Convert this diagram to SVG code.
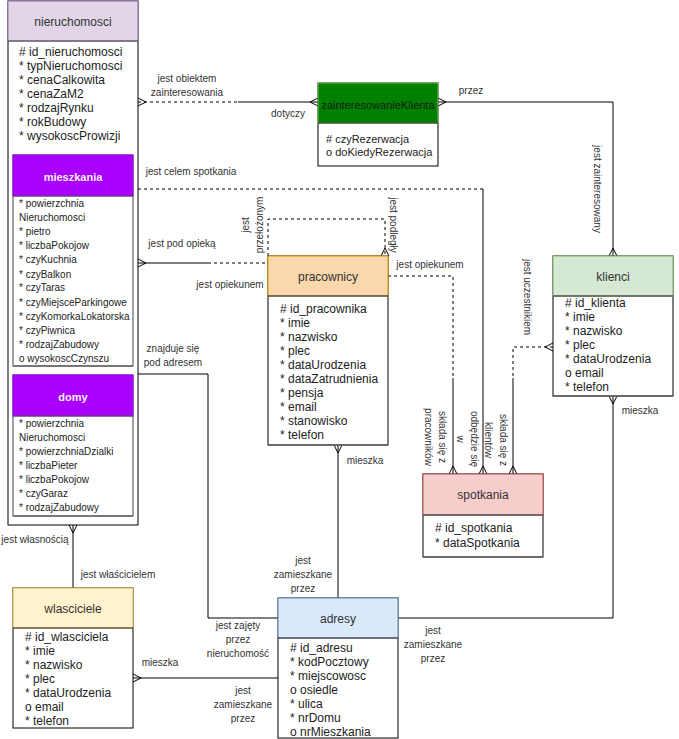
<svg xmlns="http://www.w3.org/2000/svg" width="679" height="739" viewBox="0 0 679 739">
  <style>
    text { font-family: "Liberation Sans", Arial, Helvetica, sans-serif; fill: #333; }
    .hd { font-size: 12px; text-anchor: middle; }
    .hdw { font-size: 11px; font-weight: bold; text-anchor: middle; fill: #f2f2f2; }
    .at { font-size: 12px; fill: #222; }
    .am { font-size: 11px; fill: #222; }
    .as { font-size: 10px; fill: #222; }
    .lb { font-size: 10px; text-anchor: middle; }
    .body { fill: #fff; stroke: #000; stroke-width: 1; }
    .sub { fill: #fff; stroke: #444; stroke-width: 1; }
    .ln { fill: none; stroke: #000; stroke-width: 1; }
    .dash { fill: none; stroke: #000; stroke-width: 1; stroke-dasharray: 3 3; }
  </style>
  <defs>
    <!-- crow's foot ("many") end: toes touch the entity border -->
    <marker id="many" viewBox="-10 -6 12 12" refX="0" refY="0" markerWidth="12" markerHeight="12" markerUnits="userSpaceOnUse" orient="auto-start-reverse">
      <path d="M0,-4 L-8,0 L0,4" fill="none" stroke="#000" stroke-width="1"/>
    </marker>
  </defs>

  <rect width="679" height="739" fill="#fff"/>

  <!-- connectors -->
  <g id="connectors">
    <!-- nieruchomosci - zainteresowanieKlienta -->
    <path class="dash" d="M138,102 H238" marker-start="url(#many)"/>
    <path class="ln" d="M238,102 H318" marker-end="url(#many)"/>
    <!-- zainteresowanieKlienta - klienci -->
    <path class="ln" d="M438,102 H613 V256" marker-start="url(#many)" marker-end="url(#many)"/>
    <!-- nieruchomosci - spotkania -->
    <path class="dash" d="M138,189 H483"/>
    <path class="ln" d="M483,189 V474" marker-end="url(#many)"/>
    <!-- pracownicy - spotkania -->
    <path class="dash" d="M388,276 H453 V378"/>
    <path class="ln" d="M453,378 V474" marker-end="url(#many)"/>
    <!-- klienci - spotkania -->
    <path class="dash" d="M553,347 H513 V378" marker-start="url(#many)"/>
    <path class="ln" d="M513,378 V474" marker-end="url(#many)"/>
    <!-- pracownicy self relation -->
    <path class="dash" d="M268,256 V219 H385 V256" marker-end="url(#many)"/>
    <!-- mieszkania - pracownicy -->
    <path class="ln" d="M138,263 H208" marker-start="url(#many)"/>
    <path class="dash" d="M208,263 H268"/>
    <!-- nieruchomosci - adresy -->
    <path class="ln" d="M138,374 H208 V618 H278"/>
    <!-- nieruchomosci - wlasciciele -->
    <path class="ln" d="M73,525 V588" marker-start="url(#many)"/>
    <!-- wlasciciele - adresy -->
    <path class="ln" d="M133,678 H278" marker-start="url(#many)"/>
    <!-- pracownicy - adresy -->
    <path class="ln" d="M338,445 V598" marker-start="url(#many)"/>
    <!-- klienci - adresy -->
    <path class="ln" d="M613,396 V618 H398" marker-start="url(#many)"/>
  </g>

  <!-- connector labels -->
  <g id="labels">
    <text class="lb" x="187" y="82">jest obiektem</text>
    <text class="lb" x="187" y="96">zainteresowania</text>
    <text class="lb" x="288" y="117">dotyczy</text>
    <text class="lb" x="471" y="94">przez</text>
    <text class="lb" transform="translate(597,189) rotate(90)" y="3.5">jest zainteresowany</text>
    <text class="lb" x="191" y="175">jest celem spotkania</text>
    <text class="lb" transform="translate(245,225) rotate(-90)" y="3.5">jest</text>
    <text class="lb" transform="translate(259,225) rotate(-90)" y="3.5">przełożonym</text>
    <text class="lb" transform="translate(393,225) rotate(90)" y="3.5">jest podległy</text>
    <text class="lb" x="182" y="247">jest pod opieką</text>
    <text class="lb" x="230" y="288">jest opiekunem</text>
    <text class="lb" x="430" y="268">jest opiekunem</text>
    <text class="lb" transform="translate(527,297) rotate(90)" y="3.5">jest uczestnikiem</text>
    <text class="lb" transform="translate(442,437) rotate(90)" y="3.5">składa się z</text>
    <text class="lb" transform="translate(428,437) rotate(90)" y="3.5">pracowników</text>
    <text class="lb" transform="translate(474,439) rotate(90)" y="3.5">odbędzie się</text>
    <text class="lb" transform="translate(460,439) rotate(90)" y="3.5">w</text>
    <text class="lb" transform="translate(503,440) rotate(90)" y="3.5">składa się z</text>
    <text class="lb" transform="translate(488,440) rotate(90)" y="3.5">klientów</text>
    <text class="lb" x="173" y="352">znajduje się</text>
    <text class="lb" x="173" y="366">pod adresem</text>
    <text class="lb" x="35" y="543">jest własnością</text>
    <text class="lb" x="118" y="578">jest właścicielem</text>
    <text class="lb" x="160" y="666">mieszka</text>
    <text class="lb" x="243" y="694">jest</text>
    <text class="lb" x="243" y="708">zamieszkane</text>
    <text class="lb" x="243" y="722">przez</text>
    <text class="lb" x="238" y="629">jest zajęty</text>
    <text class="lb" x="238" y="643">przez</text>
    <text class="lb" x="238" y="657">nieruchomość</text>
    <text class="lb" x="303" y="564">jest</text>
    <text class="lb" x="303" y="578">zamieszkane</text>
    <text class="lb" x="303" y="592">przez</text>
    <text class="lb" x="365" y="464">mieszka</text>
    <text class="lb" x="640" y="414">mieszka</text>
    <text class="lb" x="433" y="634">jest</text>
    <text class="lb" x="433" y="648">zamieszkane</text>
    <text class="lb" x="433" y="662">przez</text>
  </g>

  <!-- nieruchomosci (with mieszkania and domy inside) -->
  <g id="nieruchomosci">
    <rect class="body" x="8" y="1" width="130" height="524"/>
    <rect x="8" y="1" width="130" height="40" fill="#e1d5e7" stroke="#9673a6"/>
    <line x1="8" y1="41" x2="138" y2="41" stroke="#444"/>
    <text class="hd" x="73" y="26">nieruchomosci</text>
    <text class="at" x="19" y="56"># id_nieruchomosci</text>
    <text class="at" x="19" y="70">* typNieruchomosci</text>
    <text class="at" x="19" y="84">* cenaCalkowita</text>
    <text class="at" x="19" y="98">* cenaZaM2</text>
    <text class="at" x="19" y="112">* rodzajRynku</text>
    <text class="at" x="19" y="126">* rokBudowy</text>
    <text class="at" x="19" y="140">* wysokoscProwizji</text>
  </g>

  <g id="mieszkania">
    <rect class="sub" x="13" y="155" width="120" height="211"/>
    <rect x="13" y="155" width="120" height="41" fill="#aa00ff" stroke="#9900ee"/>
    <line x1="13" y1="196" x2="133" y2="196" stroke="#555"/>
    <line x1="13" y1="366" x2="133" y2="366" stroke="#777" stroke-width="2"/>
    <text class="hdw" x="73" y="181">mieszkania</text>
    <text class="as" x="19" y="207">* powierzchnia</text>
    <text class="as" x="19" y="221">Nieruchomosci</text>
    <text class="as" x="19" y="235">* pietro</text>
    <text class="as" x="19" y="249">* liczbaPokojow</text>
    <text class="as" x="19" y="263">* czyKuchnia</text>
    <text class="as" x="19" y="277.5">* czyBalkon</text>
    <text class="as" x="19" y="291">* czyTaras</text>
    <text class="as" x="19" y="305.5">* czyMiejsceParkingowe</text>
    <text class="as" x="19" y="319.5">* czyKomorkaLokatorska</text>
    <text class="as" x="19" y="333.5">* czyPiwnica</text>
    <text class="as" x="19" y="347.5">* rodzajZabudowy</text>
    <text class="as" x="19" y="362">o wysokoscCzynszu</text>
  </g>

  <g id="domy">
    <rect class="sub" x="13" y="375" width="120" height="141"/>
    <rect x="13" y="375" width="120" height="41" fill="#aa00ff" stroke="#9900ee"/>
    <line x1="13" y1="416" x2="133" y2="416" stroke="#555"/>
    <line x1="13" y1="516" x2="133" y2="516" stroke="#777" stroke-width="2"/>
    <text class="hdw" x="73" y="401">domy</text>
    <text class="as" x="19" y="427">* powierzchnia</text>
    <text class="as" x="19" y="441">Nieruchomosci</text>
    <text class="as" x="19" y="455">* powierzchniaDzialki</text>
    <text class="as" x="19" y="469">* liczbaPieter</text>
    <text class="as" x="19" y="483">* liczbaPokojow</text>
    <text class="as" x="19" y="497">* czyGaraz</text>
    <text class="as" x="19" y="511">* rodzajZabudowy</text>
  </g>

  <g id="zainteresowanieKlienta">
    <rect class="body" x="318" y="83" width="120" height="83"/>
    <rect x="318" y="83" width="120" height="40" fill="#008000" stroke="#82b366"/>
    <line x1="318" y1="123" x2="438" y2="123" stroke="#222"/>
    <text class="hd" x="378" y="109" style="font-size:11px; fill:#1a1a1a">zainteresowanieKlienta</text>
    <text class="am" x="326" y="143"># czyRezerwacja</text>
    <text class="am" x="326" y="156">o doKiedyRezerwacja</text>
  </g>

  <g id="pracownicy">
    <rect class="body" x="268" y="256" width="120" height="189"/>
    <rect x="268" y="256" width="120" height="40" fill="#fad7ac" stroke="#d79b00"/>
    <line x1="268" y1="296" x2="388" y2="296" stroke="#555" stroke-width="1.5"/>
    <line x1="268" y1="445" x2="388" y2="445" stroke="#666" stroke-width="1.5"/>
    <text class="hd" x="328" y="281">pracownicy</text>
    <text class="at" x="280" y="313"># id_pracownika</text>
    <text class="at" x="280" y="327">* imie</text>
    <text class="at" x="280" y="341">* nazwisko</text>
    <text class="at" x="280" y="355">* plec</text>
    <text class="at" x="280" y="369">* dataUrodzenia</text>
    <text class="at" x="280" y="383">* dataZatrudnienia</text>
    <text class="at" x="280" y="397">* pensja</text>
    <text class="at" x="280" y="411">* email</text>
    <text class="at" x="280" y="425">* stanowisko</text>
    <text class="at" x="280" y="439">* telefon</text>
  </g>

  <g id="klienci">
    <rect class="body" x="553" y="256" width="120" height="140"/>
    <rect x="553" y="256" width="120" height="40" fill="#d5e8d4" stroke="#82b366"/>
    <line x1="553" y1="296" x2="673" y2="296" stroke="#555" stroke-width="1.5"/>
    <line x1="553" y1="396" x2="673" y2="396" stroke="#666" stroke-width="1.5"/>
    <text class="hd" x="613" y="281">klienci</text>
    <text class="at" x="565" y="306.5"># id_klienta</text>
    <text class="at" x="565" y="320.5">* imie</text>
    <text class="at" x="565" y="334.5">* nazwisko</text>
    <text class="at" x="565" y="348.5">* plec</text>
    <text class="at" x="565" y="362.5">* dataUrodzenia</text>
    <text class="at" x="565" y="376.5">o email</text>
    <text class="at" x="565" y="390.5">* telefon</text>
  </g>

  <g id="spotkania">
    <rect class="body" x="423" y="474" width="120" height="83"/>
    <rect x="423" y="474" width="120" height="41" fill="#f8cecc" stroke="#b85450"/>
    <line x1="423" y1="515" x2="543" y2="515" stroke="#555" stroke-width="1.5"/>
    <line x1="423" y1="557" x2="543" y2="557" stroke="#666" stroke-width="1.5"/>
    <text class="hd" x="483" y="499">spotkania</text>
    <text class="at" x="435" y="532"># id_spotkania</text>
    <text class="at" x="435" y="547">* dataSpotkania</text>
  </g>

  <g id="wlasciciele">
    <rect class="body" x="13" y="588" width="120" height="140"/>
    <rect x="13" y="588" width="120" height="40" fill="#fff2cc" stroke="#d6b656"/>
    <line x1="13" y1="628" x2="133" y2="628" stroke="#222"/>
    <text class="hd" x="73" y="613">wlasciciele</text>
    <text class="at" x="25" y="641"># id_wlasciciela</text>
    <text class="at" x="25" y="655">* imie</text>
    <text class="at" x="25" y="669">* nazwisko</text>
    <text class="at" x="25" y="683">* plec</text>
    <text class="at" x="25" y="697">* dataUrodzenia</text>
    <text class="at" x="25" y="711">o email</text>
    <text class="at" x="25" y="725">* telefon</text>
  </g>

  <g id="adresy">
    <rect class="body" x="278" y="598" width="120" height="140"/>
    <rect x="278" y="598" width="120" height="40" fill="#dae8fc" stroke="#6c8ebf"/>
    <line x1="278" y1="638" x2="398" y2="638" stroke="#222"/>
    <text class="hd" x="338" y="623">adresy</text>
    <text class="at" x="290" y="651.5"># id_adresu</text>
    <text class="at" x="290" y="665.5">* kodPocztowy</text>
    <text class="at" x="290" y="679.5">* miejscowosc</text>
    <text class="at" x="290" y="693.5">o osiedle</text>
    <text class="at" x="290" y="707.5">* ulica</text>
    <text class="at" x="290" y="721.5">* nrDomu</text>
    <text class="at" x="290" y="735.5">o nrMieszkania</text>
  </g>
</svg>
